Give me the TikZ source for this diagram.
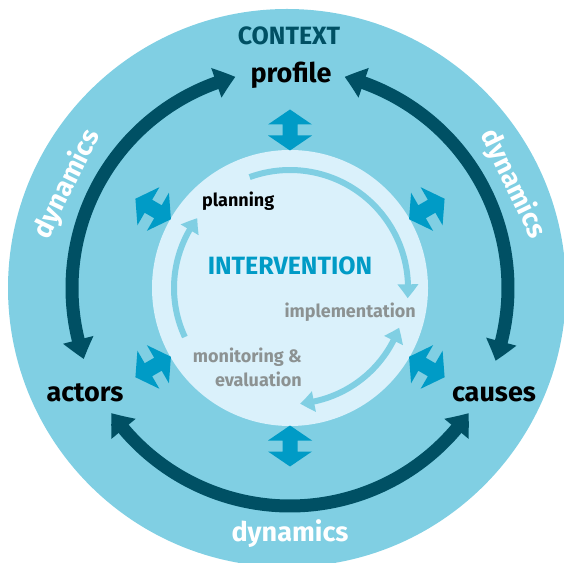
\documentclass[tikz,border=0pt]{standalone}
\usepackage{fontspec}
\setmainfont{Fira Sans}
\usetikzlibrary{positioning, arrows.meta, bending, calc}
\definecolor{ring}{HTML}{80CFE3}
\definecolor{core}{HTML}{DAF1FB}
\definecolor{deep}{HTML}{005064}
\definecolor{flow}{HTML}{009BC6}
\definecolor{muted}{HTML}{8C9292}

\begin{document}
\begin{tikzpicture}[x=1pt, y=1pt,
  big/.style={inner sep=0pt, font=\bfseries\fontsize{27}{30}\selectfont},
  mid/.style={inner sep=0pt, font=\bfseries\fontsize{25}{30}\selectfont},
  small/.style={inner sep=0pt, font=\bfseries\fontsize{18}{24}\selectfont},
  orbit/.style={deep, line width=13pt,
    {Triangle[width=30pt,length=20pt,bend]}-{Triangle[width=30pt,length=20pt,bend]}},
  spin/.style={ring, line width=6pt, -{Triangle[width=20pt,length=14pt,bend]}}
]
  \useasboundingbox (0,0) rectangle (564,562);
  \coordinate (c) at (290,274);

  % context ring and intervention disc
  \fill[ring] (287,274) circle[radius=279];
  \fill[core] (c) circle[radius=138];

  % dynamics between profile, actors and causes
  \draw[orbit] ($(c)+(199:218)$) arc[start angle=199, end angle=104.5, radius=218];
  \draw[orbit] ($(c)+(75.5:218)$) arc[start angle=75.5, end angle=-19.5, radius=218];
  \draw[orbit] ($(c)+(215:218)$) arc[start angle=215, end angle=325, radius=218];

  % exchange between context and intervention
  \foreach \a in {90,30,-30,-90,-150,150}
    \fill[flow, shift={(c)}, rotate=\a] (137.5,0) -- (152.5,22) -- (152.5,7.5)
      -- (163.5,7.5) -- (163.5,22) -- (178.5,0) -- (163.5,-22) -- (163.5,-7.5)
      -- (152.5,-7.5) -- (152.5,-22) -- cycle;

  % project cycle
  \draw[spin] ($(c)+(110:118)$) arc[start angle=110, end angle=-5, radius=118];
  \draw[spin] ($(c)+(205:116)$) arc[start angle=205, end angle=143, radius=116];
  \draw[spin, {Triangle[width=20pt,length=14pt,bend]}-{Triangle[width=20pt,length=14pt,bend]}]
    ($(c)+(-85:116)$) arc[start angle=-85, end angle=-20, radius=116];

  \node[mid, text=deep, anchor=base] (context) at (289,517) {CONTEXT};
  \node[big, anchor=base] (profile) at (291,479) {profile};
  \node[big, anchor=base] (actors) at (85,160) {actors};
  \node[big, anchor=base] (causes) at (494,160) {causes};
  \node[big, white] (dyn-b) at ($(c)+(-90:246)$) {dynamics};
  \node[big, white, rotate=64] (dyn-l) at ($(c)+(155:246)$) {dynamics};
  \node[big, white, rotate=-64] (dyn-r) at ($(c)+(25:246)$) {dynamics};

  \node[small, anchor=base west] (plan) at (202,355) {planning};
  \node[mid, text=flow, anchor=base] (interv) at (290,287) {INTERVENTION};
  \node[small, text=muted, anchor=base east] (impl) at (416,244) {implementation};
  \node[small, text=muted, align=right, anchor=north east] (monit) at (302,214)
    {monitoring \&\\evaluation};
\end{tikzpicture}
\end{document}
